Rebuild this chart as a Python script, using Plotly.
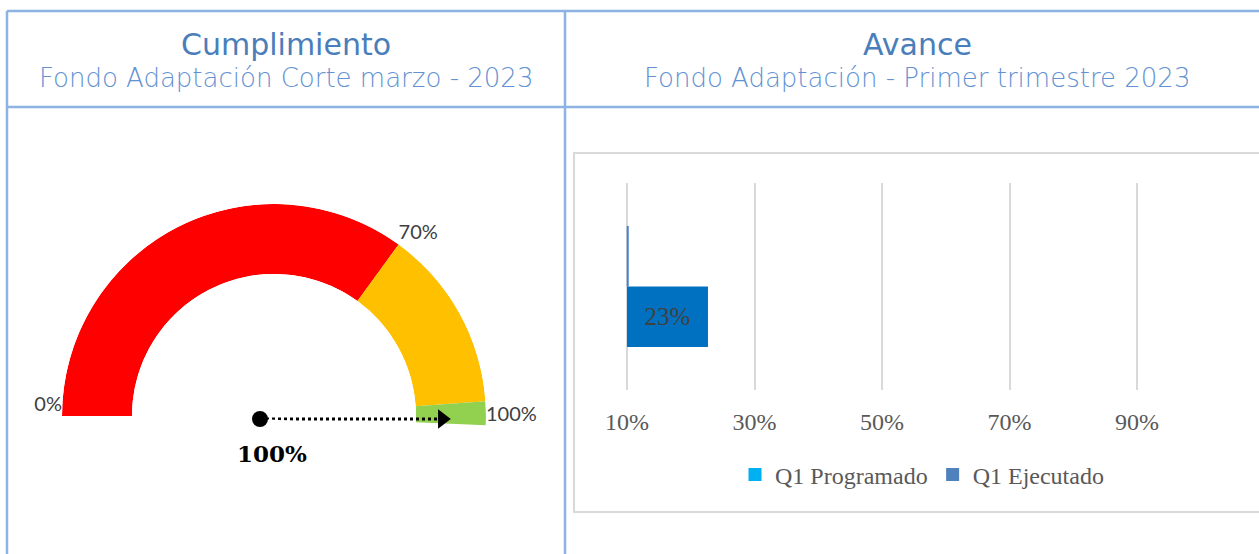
import plotly.graph_objects as go

# ---------------- data ----------------
# Gauge (Cumplimiento)
gauge_band_starts = [0, 70, 97.8]
gauge_band_ends = [70, 97.8, 101.4]
gauge_band_colors = ["#ff0000", "#ffc000", "#92d050"]
gauge_tick_values = [0, 70, 100]
gauge_tick_labels = ["0%", "70%", "100%"]
gauge_needle_value = 100
gauge_value_label = "100%"

# Bar chart (Avance)
bar_category = ["Q1"]
series_names = ["Q1 Programado", "Q1 Ejecutado"]
programado_values = [0.1025]
ejecutado_values = [0.227]
axis_min = 0.10
tick_values = [0.1, 0.3, 0.5, 0.7, 0.9]
tick_labels = ["10%", "30%", "50%", "70%", "90%"]

titles = ["Cumplimiento", "Avance"]
subtitles = ["Fondo Adaptación Corte marzo - 2023",
             "Fondo Adaptación - Primer trimestre 2023"]

# ---------------- helpers ----------------
W, H = 1259, 554
def px_x(v):
    return v / W
def px_y(v):
    return 1 - v / H

DEG_PER_PCT = 1.8
def to_theta(p):
    return p * DEG_PER_PCT

fig = go.Figure()

# ---------------- gauge ----------------
for s, e, c in zip(gauge_band_starts, gauge_band_ends, gauge_band_colors):
    fig.add_trace(go.Barpolar(
        r=[1], base=[0],
        theta=[to_theta((s + e) / 2)], width=[to_theta(e - s)],
        marker=dict(color=c, line=dict(width=0)),
        subplot="polar", showlegend=False, hoverinfo="skip"))

fig.add_trace(go.Scatterpolar(
    r=[1] * len(gauge_tick_values),
    theta=[to_theta(v) for v in gauge_tick_values],
    mode="text", text=gauge_tick_labels,
    textposition=["top left", "top right", "middle right"],
    textfont=dict(family="Lato", size=20, color="#404040"),
    subplot="polar", showlegend=False, hoverinfo="skip"))

# needle
fig.add_trace(go.Scatterpolar(
    r=[0, 0.86], theta=[to_theta(gauge_needle_value)] * 2,
    mode="lines+markers",
    line=dict(color="black", width=3, dash="dot"),
    marker=dict(symbol=["circle", "triangle-right"], size=[16, 17], color="#000000",
                opacity=1, line=dict(width=0)),
    subplot="polar2", showlegend=False, hoverinfo="skip"))

# ---------------- bar chart ----------------
fig.add_trace(go.Bar(
    y=bar_category, x=[v - axis_min for v in ejecutado_values], base=axis_min,
    orientation="h", marker=dict(color="#0070c0", line=dict(width=0)),
    text=[f"{v:.0%}" for v in ejecutado_values], textposition="inside",
    insidetextanchor="middle",
    textfont=dict(family="Liberation Serif", size=25, color="#404040"),
    name=series_names[1], showlegend=False, hoverinfo="skip"))
fig.add_trace(go.Bar(
    y=bar_category, x=[v - axis_min for v in programado_values], base=axis_min,
    orientation="h", marker=dict(color="#4a7fd0", line=dict(width=0)),
    name=series_names[0], showlegend=False, hoverinfo="skip"))

# legend entries
for nm, col in zip(series_names, ["#00b0f0", "#4f81bd"]):
    fig.add_trace(go.Scatter(x=[None], y=[None], mode="markers", name=nm,
                             marker=dict(symbol="square", size=13, color=col,
                                         line=dict(width=0))))

# ---------------- layout ----------------
R = 212
cx, cy = 274, 416
drop = 0.0523
polar_common = dict(
    sector=[-3, 180], bgcolor="rgba(0,0,0,0)",
    radialaxis=dict(visible=False, range=[0, 1]),
    angularaxis=dict(visible=False, direction="clockwise", rotation=180),
)
ncx, ncy = 260, 419

shapes = []
blue = "#8db3e2"
for (x0, y0, x1, y1) in [(7, 11, 1270, 11), (7, 11, 7, 560), (565, 11, 565, 560), (7, 107, 1270, 107)]:
    shapes.append(dict(type="line", xref="paper", yref="paper",
                       x0=px_x(x0), y0=px_y(y0), x1=px_x(x1), y1=px_y(y1),
                       line=dict(color=blue, width=2.5)))
shapes.append(dict(type="rect", xref="paper", yref="paper",
                   x0=px_x(574), y0=px_y(153), x1=px_x(1266), y1=px_y(512),
                   line=dict(color="#d9d9d9", width=2), layer="below"))

annotations = []
for cxp, t, st in zip([286, 917], titles, subtitles):
    annotations.append(dict(x=px_x(cxp), y=px_y(44), xref="paper", yref="paper",
                            text=t, showarrow=False, xanchor="center", yanchor="middle",
                            font=dict(family="DejaVu Sans", size=30, color="#4a7ebb")))
    annotations.append(dict(x=px_x(cxp), y=px_y(78), xref="paper", yref="paper",
                            text=st, showarrow=False, xanchor="center", yanchor="middle",
                            font=dict(family="DejaVu Sans", size=26, color="#6392d2", weight=200)))
annotations.append(dict(x=px_x(272), y=px_y(453), xref="paper", yref="paper",
                        text=f"<b>{gauge_value_label}</b>", showarrow=False,
                        xanchor="center", yanchor="middle",
                        font=dict(family="DejaVu Serif", size=23, color="black")))

px_per_unit = 637.5
grid0 = 627
rmin = axis_min - 0.002
dom0 = grid0 - 0.002 * px_per_unit
rmax = rmin + (W - dom0) / px_per_unit

fig.update_layout(
    template="none",
    width=W, height=H, margin=dict(l=0, r=0, t=0, b=0, pad=0, autoexpand=False),
    paper_bgcolor="white", plot_bgcolor="rgba(0,0,0,0)",
    polar=dict(domain=dict(x=[px_x(cx - R), px_x(cx + R)],
                           y=[px_y(cy + drop * R), px_y(cy - R)]),
               hole=0.67, **polar_common),
    polar2=dict(domain=dict(x=[px_x(ncx - R), px_x(ncx + R)],
                            y=[px_y(ncy + drop * R), px_y(ncy - R)]),
                **polar_common),
    xaxis=dict(domain=[px_x(dom0), 1], range=[rmin, rmax], automargin=False,
               tickvals=tick_values, ticktext=tick_labels,
               showgrid=True, gridcolor="#d9d9d9", gridwidth=2,
               zeroline=False, showline=False, ticks="",
               ticklabelstandoff=15,
               tickfont=dict(family="Liberation Serif", size=24, color="#595959")),
    yaxis=dict(domain=[px_y(390), px_y(183)], showticklabels=False, automargin=False,
               showgrid=False, zeroline=False, showline=False, ticks=""),
    barmode="group", bargap=0.4155, bargroupgap=0,
    showlegend=True,
    legend=dict(orientation="h", x=px_x(922), y=px_y(475), xanchor="center",
                yanchor="middle", font=dict(family="Liberation Serif", size=24, color="#595959"),
                bgcolor="rgba(0,0,0,0)", borderwidth=0),
    shapes=shapes, annotations=annotations,
)

fig.write_html("out.html", config={"displayModeBar": False},
               post_script="document.body.style.margin='0';")
